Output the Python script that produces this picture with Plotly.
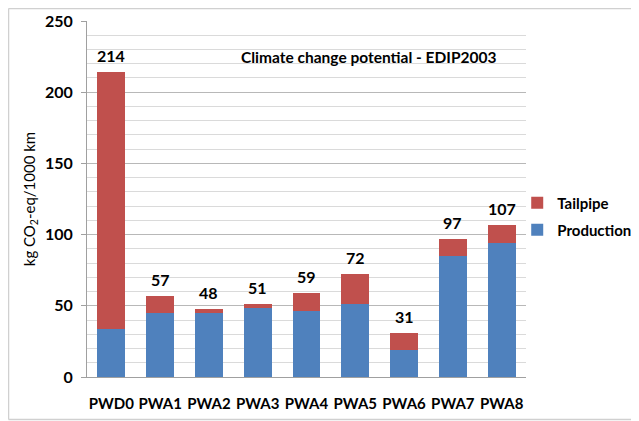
import plotly.graph_objects as go

categories = ["PWD0", "PWA1", "PWA2", "PWA3", "PWA4", "PWA5", "PWA6", "PWA7", "PWA8"]
production = [34, 45, 45.2, 48.5, 46.5, 51, 19, 85, 94]
tailpipe = [180, 12, 2.8, 2.5, 12.5, 21, 12, 12, 13]
totals = [214, 57, 48, 51, 59, 72, 31, 97, 107]
y_ticks = [0, 50, 100, 150, 200, 250]

BLUE = "#4F81BD"
RED = "#C0504D"
FONT = "Lato"

fig = go.Figure()
fig.add_trace(go.Bar(x=categories, y=production, name="Production",
                     marker=dict(color=BLUE, line=dict(width=0)), legend="legend2"))
fig.add_trace(go.Bar(x=categories, y=tailpipe, name="Tailpipe",
                     marker=dict(color=RED, line=dict(width=0)), legend="legend"))

for c, t in zip(categories, totals):
    fig.add_annotation(x=c, y=t, text=str(t), showarrow=False,
                       yanchor="bottom", yshift=5,
                       font=dict(family=FONT, size=16, color="#000000", weight="bold"))

fig.add_annotation(x=0.642, y=0.899, xref="paper", yref="paper",
                   text="Climate change potential - EDIP2003", showarrow=False,
                   xanchor="center", yanchor="middle",
                   font=dict(family=FONT, size=15.5, color="#000000", weight="bold"))

# outer frame (left, top, bottom edges; right edge lies outside the view)
frame_line = dict(color="#D0D0D0", width=1.5)
fig.add_shape(type="line", xref="paper", yref="paper",
              x0=-0.1788, x1=-0.1788, y0=-0.1194, y1=1.0351, line=frame_line, layer="below")
fig.add_shape(type="line", xref="paper", yref="paper",
              x0=-0.1788, x1=1.3, y0=1.0351, y1=1.0351, line=frame_line, layer="below")
fig.add_shape(type="line", xref="paper", yref="paper",
              x0=-0.1788, x1=1.3, y0=-0.1194, y1=-0.1194, line=frame_line, layer="below")

legend_font = dict(family=FONT, size=15, color="#000000", weight="bold")

fig.update_layout(
    width=631, height=413,
    margin=dict(l=79, r=113, t=13, b=44, autoexpand=False),
    barmode="stack", bargap=0.43,
    plot_bgcolor="white", paper_bgcolor="white",
    font=dict(family=FONT, color="#000000"),
    showlegend=True,
    legend=dict(x=0.98, y=0.489, xanchor="left", yanchor="middle",
                font=legend_font, bgcolor="rgba(0,0,0,0)", itemwidth=30),
    legend2=dict(x=0.98, y=0.413, xanchor="left", yanchor="middle",
                 font=legend_font, bgcolor="rgba(0,0,0,0)", itemwidth=30),
    xaxis=dict(
        tickfont=dict(family=FONT, size=15, color="#000000", weight="bold"),
        tickangle=0,
        showline=True, linecolor="#A0A0A0", linewidth=1,
        ticks="", showgrid=False, ticklabelstandoff=13, automargin=False,
    ),
    yaxis=dict(
        range=[0, 250], tickvals=y_ticks,
        tickfont=dict(family=FONT, size=16, color="#000000", weight="bold"),
        showline=True, linecolor="#A0A0A0", linewidth=1,
        ticks="outside", ticklen=5, tickcolor="#A0A0A0", ticklabelstandoff=5,
        showgrid=True, gridcolor="#B8B8B8", gridwidth=1,
        minor=dict(dtick=10, showgrid=True, gridcolor="#DADADA", gridwidth=1),
        zeroline=False, automargin=False,
        title=dict(text="kg CO<sub>2</sub>-eq/1000 km",
                   font=dict(family=FONT, size=15, color="#000000"), standoff=5),
    ),
)

fig.write_html("out.html")
